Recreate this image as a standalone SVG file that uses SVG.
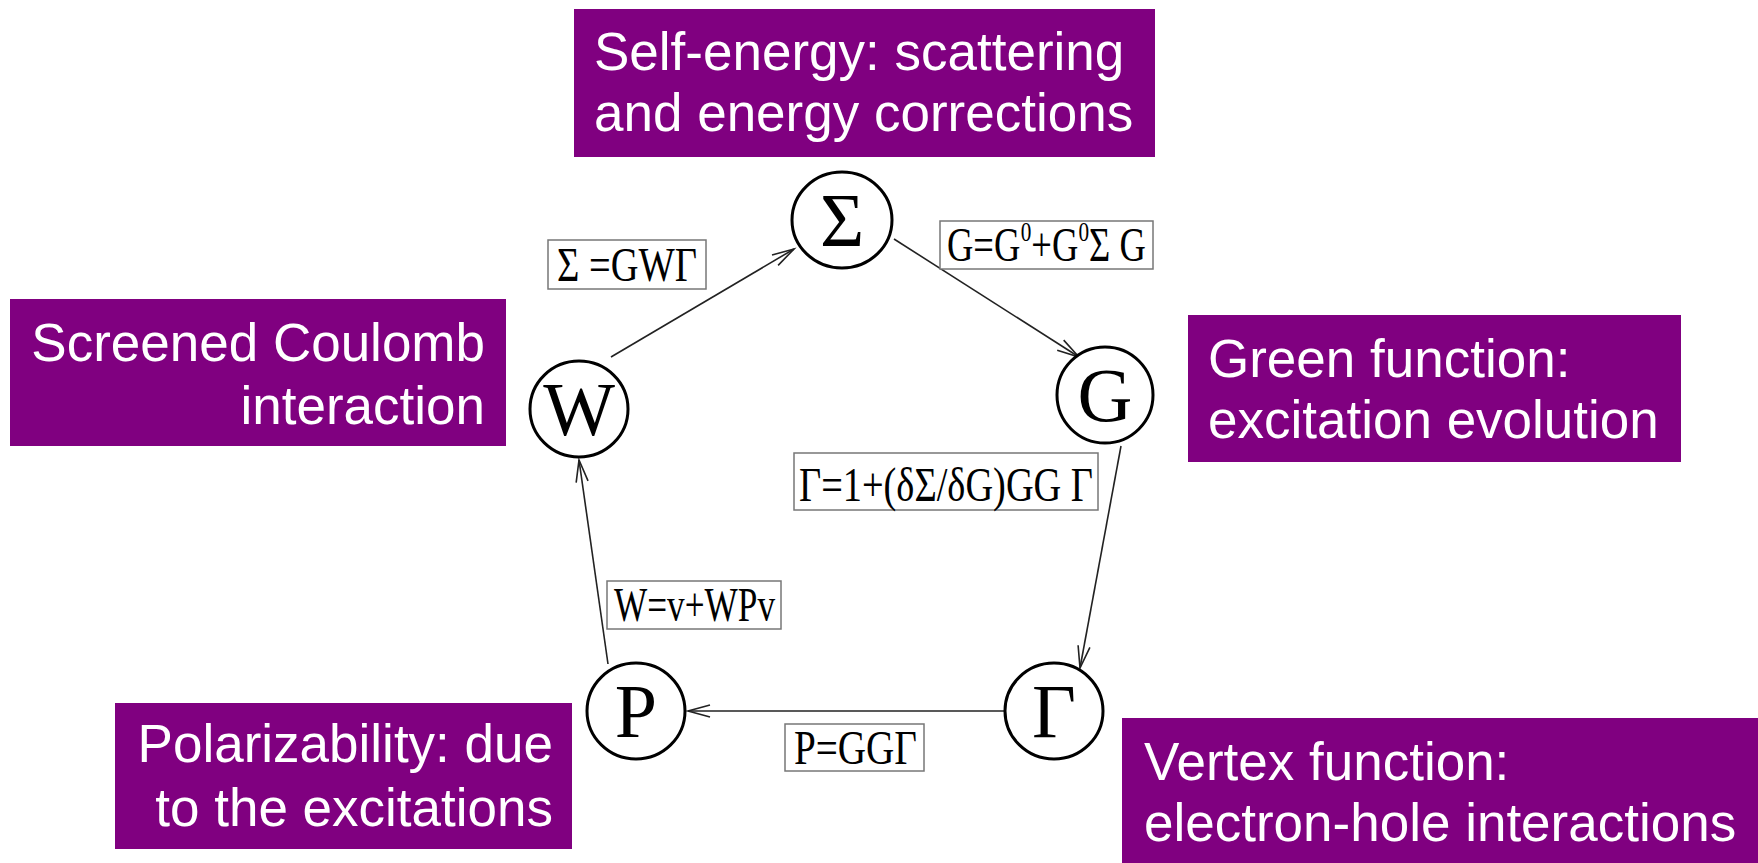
<svg xmlns="http://www.w3.org/2000/svg" width="1758" height="863" viewBox="0 0 1758 863">
<defs>
<style>
.box{fill:#800080}
.lbl{font-family:"Liberation Sans",Arial,sans-serif;font-size:53px;fill:#ffffff}
.node{fill:#ffffff;stroke:#000;stroke-width:3}
.sym{font-family:"Liberation Serif","Times New Roman",serif;font-size:76px;fill:#000;text-anchor:middle}
.eqbox{fill:#ffffff;stroke:#777;stroke-width:1.5}
.eq{font-family:"Liberation Serif","Times New Roman",serif;font-size:48px;fill:#000}
.sup{font-family:"Liberation Serif","Times New Roman",serif;font-size:28px;fill:#000}
.edge{stroke:#222;stroke-width:1.6;fill:none;marker-end:url(#arr)}
</style>
<marker id="arr" markerUnits="userSpaceOnUse" viewBox="-24 -8 28 16" markerWidth="28" markerHeight="16" refX="0" refY="0" orient="auto">
<path d="M-22,-6 L0,0 L-22,6" fill="none" stroke="#222" stroke-width="1.6"/>
</marker>
</defs>
<rect width="1758" height="863" fill="#ffffff"/>

<g id="connectors">
<line class="edge" x1="611" y1="357" x2="794" y2="249"/>
<line class="edge" x1="894" y1="239" x2="1079" y2="357"/>
<line class="edge" x1="1121" y1="446" x2="1080" y2="668"/>
<line class="edge" x1="1005" y1="711" x2="688" y2="711"/>
<line class="edge" x1="608" y1="664" x2="579" y2="460"/>
</g>

<g id="label-selfenergy">
<rect class="box" x="574" y="9" width="581" height="148"/>
<text class="lbl" x="594" y="70">Self-energy: scattering</text>
<text class="lbl" x="594" y="131">and energy corrections</text>
</g>
<g id="label-coulomb">
<rect class="box" x="10" y="299" width="496" height="147"/>
<text class="lbl" x="485" y="361" text-anchor="end">Screened Coulomb</text>
<text class="lbl" x="485" y="424" text-anchor="end">interaction</text>
</g>
<g id="label-green">
<rect class="box" x="1188" y="315" width="493" height="147"/>
<text class="lbl" x="1208" y="377">Green function:</text>
<text class="lbl" x="1208" y="438">excitation evolution</text>
</g>
<g id="label-polar">
<rect class="box" x="115" y="703" width="457" height="146"/>
<text class="lbl" x="553" y="762" text-anchor="end">Polarizability: due</text>
<text class="lbl" x="553" y="826" text-anchor="end">to the excitations</text>
</g>
<g id="label-vertex">
<rect class="box" x="1122" y="718" width="636" height="145"/>
<text class="lbl" x="1144" y="780">Vertex function:</text>
<text class="lbl" x="1144" y="841">electron-hole interactions</text>
</g>

<g id="node-sigma">
<ellipse class="node" cx="842" cy="220" rx="50" ry="48"/>
<text class="sym" x="842" y="246">Σ</text>
</g>
<g id="node-W">
<ellipse class="node" cx="579" cy="409" rx="49" ry="48"/>
<text class="sym" x="579" y="435">W</text>
</g>
<g id="node-G">
<ellipse class="node" cx="1105" cy="395" rx="48" ry="48"/>
<text class="sym" x="1105" y="421">G</text>
</g>
<g id="node-P">
<ellipse class="node" cx="636" cy="711" rx="49" ry="48"/>
<text class="sym" x="636" y="737">P</text>
</g>
<g id="node-Gamma">
<ellipse class="node" cx="1054" cy="711" rx="49" ry="48"/>
<text class="sym" x="1054" y="737">Γ</text>
</g>

<g id="eq-sigma">
<rect class="eqbox" x="548" y="240" width="158" height="49"/>
<text class="eq" x="557" y="281" textLength="140" lengthAdjust="spacingAndGlyphs">Σ =GWΓ</text>
</g>
<g id="eq-G">
<rect class="eqbox" x="940" y="221" width="213" height="48"/>
<g transform="translate(947,261) scale(0.76,1)">
<text class="eq" x="0" y="0">G=G</text>
<text class="sup" x="97" y="-20">0</text>
<text class="eq" x="111" y="0">+G</text>
<text class="sup" x="173" y="-20">0</text>
<text class="eq" x="187" y="0">Σ G</text>
</g>
</g>
<g id="eq-Gamma">
<rect class="eqbox" x="794" y="453" width="304" height="57"/>
<text class="eq" x="799" y="501" textLength="294" lengthAdjust="spacingAndGlyphs">Γ=1+(δΣ/δG)GG Γ</text>
</g>
<g id="eq-W">
<rect class="eqbox" x="607" y="581" width="174" height="48"/>
<text class="eq" x="614" y="621" textLength="161" lengthAdjust="spacingAndGlyphs">W=v+WPv</text>
</g>
<g id="eq-P">
<rect class="eqbox" x="785" y="724" width="139" height="47"/>
<text class="eq" x="794" y="764" textLength="123" lengthAdjust="spacingAndGlyphs">P=GGΓ</text>
</g>
</svg>
